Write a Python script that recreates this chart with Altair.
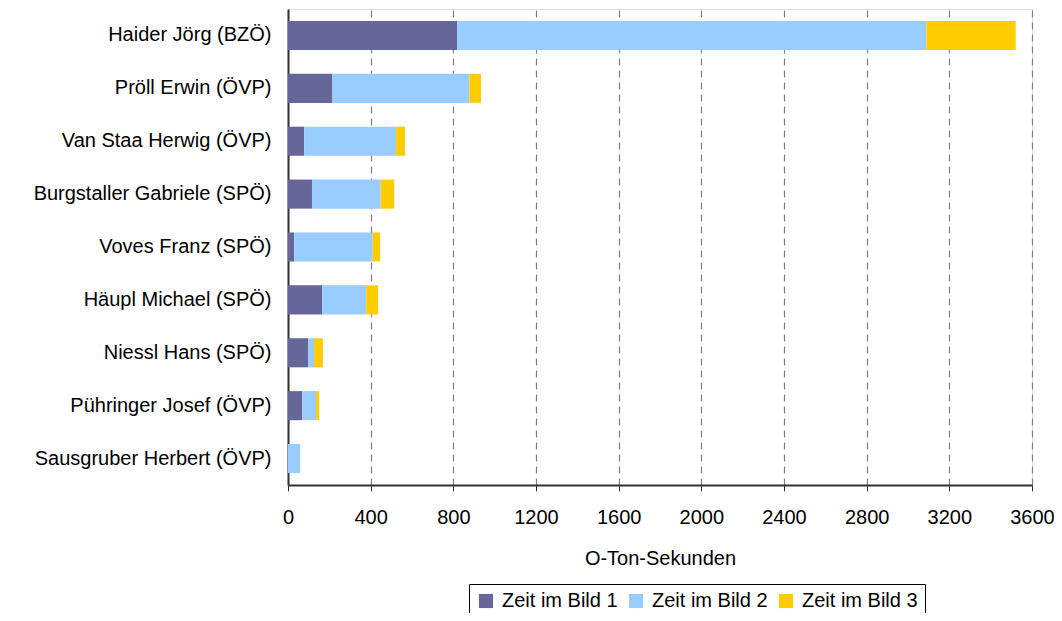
import altair as alt
import pandas as pd

names = [
    "Haider Jörg (BZÖ)",
    "Pröll Erwin (ÖVP)",
    "Van Staa Herwig (ÖVP)",
    "Burgstaller Gabriele (SPÖ)",
    "Voves Franz (SPÖ)",
    "Häupl Michael (SPÖ)",
    "Niessl Hans (SPÖ)",
    "Pühringer Josef (ÖVP)",
    "Sausgruber Herbert (ÖVP)",
]
bild1 = [818, 213, 78, 116, 30, 165, 97, 69, 0]
bild2 = [2271, 665, 445, 333, 380, 213, 29, 67, 59]
bild3 = [432, 56, 43, 65, 36, 58, 43, 15, 0]
series = ["Zeit im Bild 1", "Zeit im Bild 2", "Zeit im Bild 3"]
colors = ["#666699", "#99CCFF", "#FFCC00"]
x_ticks = [0, 400, 800, 1200, 1600, 2000, 2400, 2800, 3200, 3600]

rows = []
for i, n in enumerate(names):
    for s, vals in zip(series, [bild1, bild2, bild3]):
        rows.append({"Name": n, "Serie": s, "Sekunden": vals[i], "ord": series.index(s)})
df = pd.DataFrame(rows)

FONT = "Liberation Sans"
FS = 20

chart = alt.Chart(df).mark_bar(stroke=None).encode(
    y=alt.Y("Name:N", sort=names, title=None,
            scale=alt.Scale(paddingInner=0.45, paddingOuter=0.225),
            axis=alt.Axis(ticks=False, labelPadding=17, labelFontSize=FS, labelFont=FONT,
                          labelColor="#000000", domainColor="#333333", domainWidth=2,
                          labelLimit=400)),
    x=alt.X("Sekunden:Q", stack="zero", title="O-Ton-Sekunden",
            scale=alt.Scale(domain=[0, 3600], nice=False),
            axis=alt.Axis(values=x_ticks, format="d", grid=True, gridDash=[7, 5],
                          gridColor="#808080", gridWidth=1.2, tickColor="#333333",
                          tickSize=6, labelPadding=16, labelFontSize=FS, labelFont=FONT,
                          labelColor="#000000", domainColor="#333333", domainWidth=2,
                          labelFlush=False,
                          titleFont=FONT, titleFontSize=FS, titleFontWeight="normal",
                          titleColor="#000000", titlePadding=21)),
    color=alt.Color("Serie:N", sort=series,
                    scale=alt.Scale(domain=series, range=colors),
                    legend=alt.Legend(title=None, orient="none", legendX=181, legendY=575,
                                      direction="horizontal", symbolType="square",
                                      symbolSize=200, symbolStrokeWidth=0,
                                      labelFont=FONT, labelFontSize=FS, labelColor="#000000",
                                      strokeColor="#000000", fillColor="#ffffff",
                                      padding=7, columnPadding=8, symbolOffset=0,
                                      labelOffset=6)),
    order=alt.Order("ord:Q"),
).properties(
    width=744, height=476,
    autosize=alt.AutoSizeParams(type="none"),
    padding={"left": 280, "top": 1, "right": 22, "bottom": 128},
).configure_view(
    stroke="#888888", strokeWidth=2
).configure(background="#ffffff")

chart.save("out.html", embed_options={"renderer": "svg", "actions": False})
